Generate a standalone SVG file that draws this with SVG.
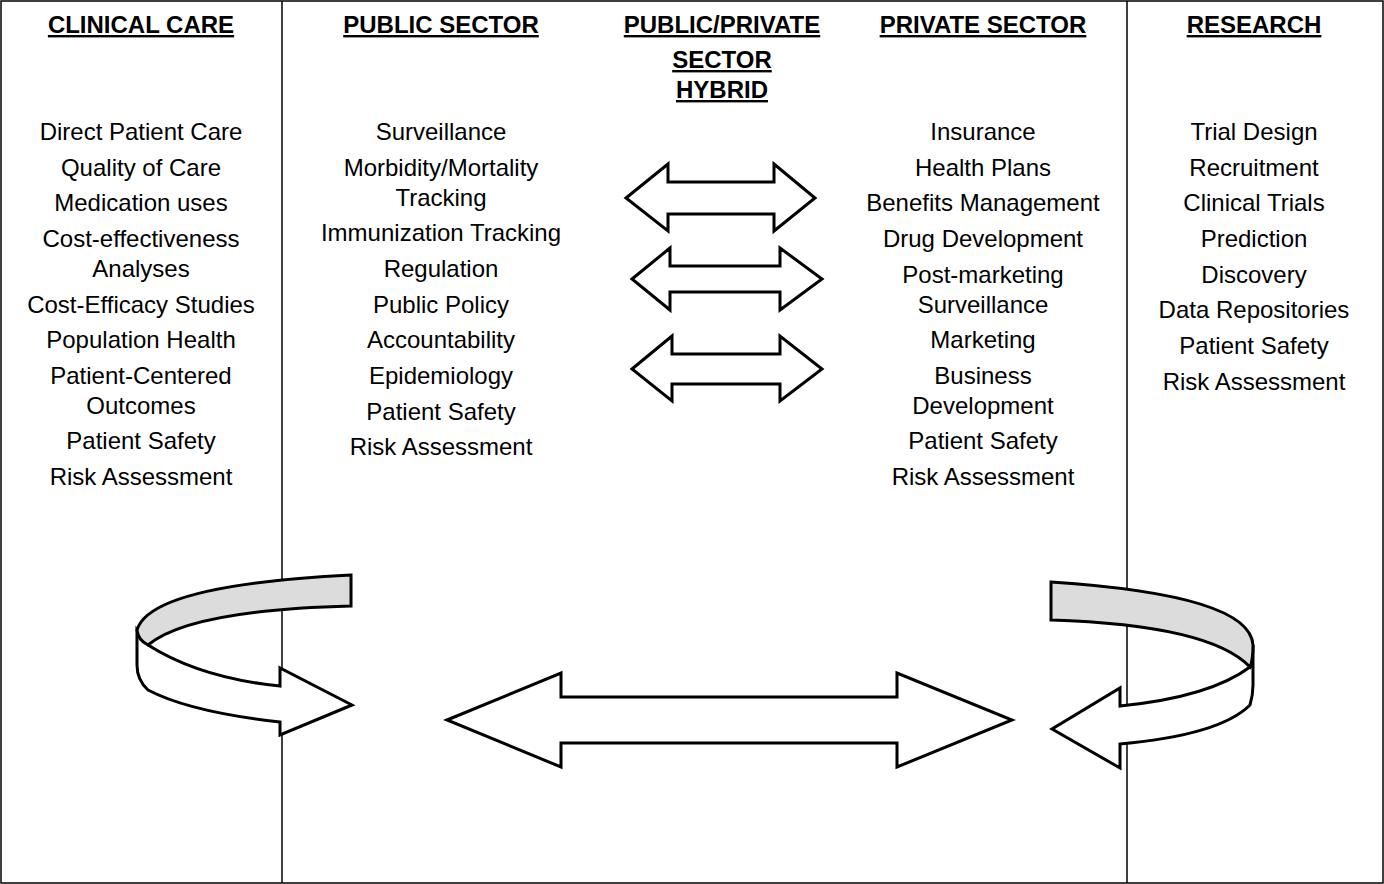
<svg xmlns="http://www.w3.org/2000/svg" width="1384" height="884" viewBox="0 0 1384 884">
<style>
text{font-family:"Liberation Sans",Arial,sans-serif;font-size:24px;text-anchor:middle;fill:#000}
.h{font-weight:bold;text-decoration:underline}
.a{fill:#fff;stroke:#000;stroke-width:3;stroke-linejoin:miter}
.g{fill:#dcdcdc;stroke:#000;stroke-width:3}
.ln{stroke:#000;stroke-width:1.5;fill:none}
</style>
<rect x="1" y="1" width="1382" height="882" class="ln"/>
<line x1="282" y1="1" x2="282" y2="883" class="ln"/>
<line x1="1127" y1="1" x2="1127" y2="883" class="ln"/>
<g id="clinical">
<text class="h" x="141" y="33">CLINICAL CARE</text>
<text x="141" y="140">Direct Patient Care</text>
<text x="141" y="176">Quality of Care</text>
<text x="141" y="211">Medication uses</text>
<text x="141" y="247">Cost-effectiveness</text>
<text x="141" y="277">Analyses</text>
<text x="141" y="313">Cost-Efficacy Studies</text>
<text x="141" y="348">Population Health</text>
<text x="141" y="384">Patient-Centered</text>
<text x="141" y="414">Outcomes</text>
<text x="141" y="449">Patient Safety</text>
<text x="141" y="485">Risk Assessment</text>
</g>
<g id="public">
<text class="h" x="441" y="33">PUBLIC SECTOR</text>
<text x="441" y="140">Surveillance</text>
<text x="441" y="176">Morbidity/Mortality</text>
<text x="441" y="206">Tracking</text>
<text x="441" y="241">Immunization Tracking</text>
<text x="441" y="277">Regulation</text>
<text x="441" y="313">Public Policy</text>
<text x="441" y="348">Accountability</text>
<text x="441" y="384">Epidemiology</text>
<text x="441" y="420">Patient Safety</text>
<text x="441" y="455">Risk Assessment</text>
</g>
<g id="hybrid">
<text class="h" x="722" y="33">PUBLIC/PRIVATE</text>
<text class="h" x="722" y="68">SECTOR</text>
<text class="h" x="722" y="98">HYBRID</text>
</g>
<g id="private">
<text class="h" x="983" y="33">PRIVATE SECTOR</text>
<text x="983" y="140">Insurance</text>
<text x="983" y="176">Health Plans</text>
<text x="983" y="211">Benefits Management</text>
<text x="983" y="247">Drug Development</text>
<text x="983" y="283">Post-marketing</text>
<text x="983" y="313">Surveillance</text>
<text x="983" y="348">Marketing</text>
<text x="983" y="384">Business</text>
<text x="983" y="414">Development</text>
<text x="983" y="449">Patient Safety</text>
<text x="983" y="485">Risk Assessment</text>
</g>
<g id="research">
<text class="h" x="1254" y="33">RESEARCH</text>
<text x="1254" y="140">Trial Design</text>
<text x="1254" y="176">Recruitment</text>
<text x="1254" y="211">Clinical Trials</text>
<text x="1254" y="247">Prediction</text>
<text x="1254" y="283">Discovery</text>
<text x="1254" y="318">Data Repositories</text>
<text x="1254" y="354">Patient Safety</text>
<text x="1254" y="390">Risk Assessment</text>
</g>
<g id="connectors">
<polygon class="a" points="626,198 668,164 668,182 774,182 774,164 815,198 774,231 774,214 668,214 668,231"/>
<polygon class="a" points="632,279 670,248 670,266 780,266 780,248 822,279 780,310 780,292 670,292 670,310"/>
<polygon class="a" points="632,369 672,336 672,354 780,354 780,336 822,369 780,401 780,384 672,384 672,401"/>
<polygon class="a" points="447,720 561,673 561,697 897,697 897,673 1012,720 897,767 897,743 561,743 561,767"/>
<path class="a" d="M148,645 Q200,678 280,686 L280,668 L352,705 L280,735 L280,722 Q190,712 148,690 Q137,680 137,665 L137,630 Z"/>
<path class="g" d="M137,630 Q150,585 351,575 L351,606 Q190,610 148,645 Q138,640 137,630 Z"/>
<path class="a" d="M1250,667 Q1210,697 1120,706 L1120,688 L1052,729 L1120,768 L1120,744 Q1220,735 1250,705 Q1253,695 1253,685 L1253,645 Z"/>
<path class="g" d="M1253,645 Q1250,595 1051,582 L1051,620 Q1210,625 1250,667 Q1253,660 1253,645 Z"/>
</g>
</svg>
